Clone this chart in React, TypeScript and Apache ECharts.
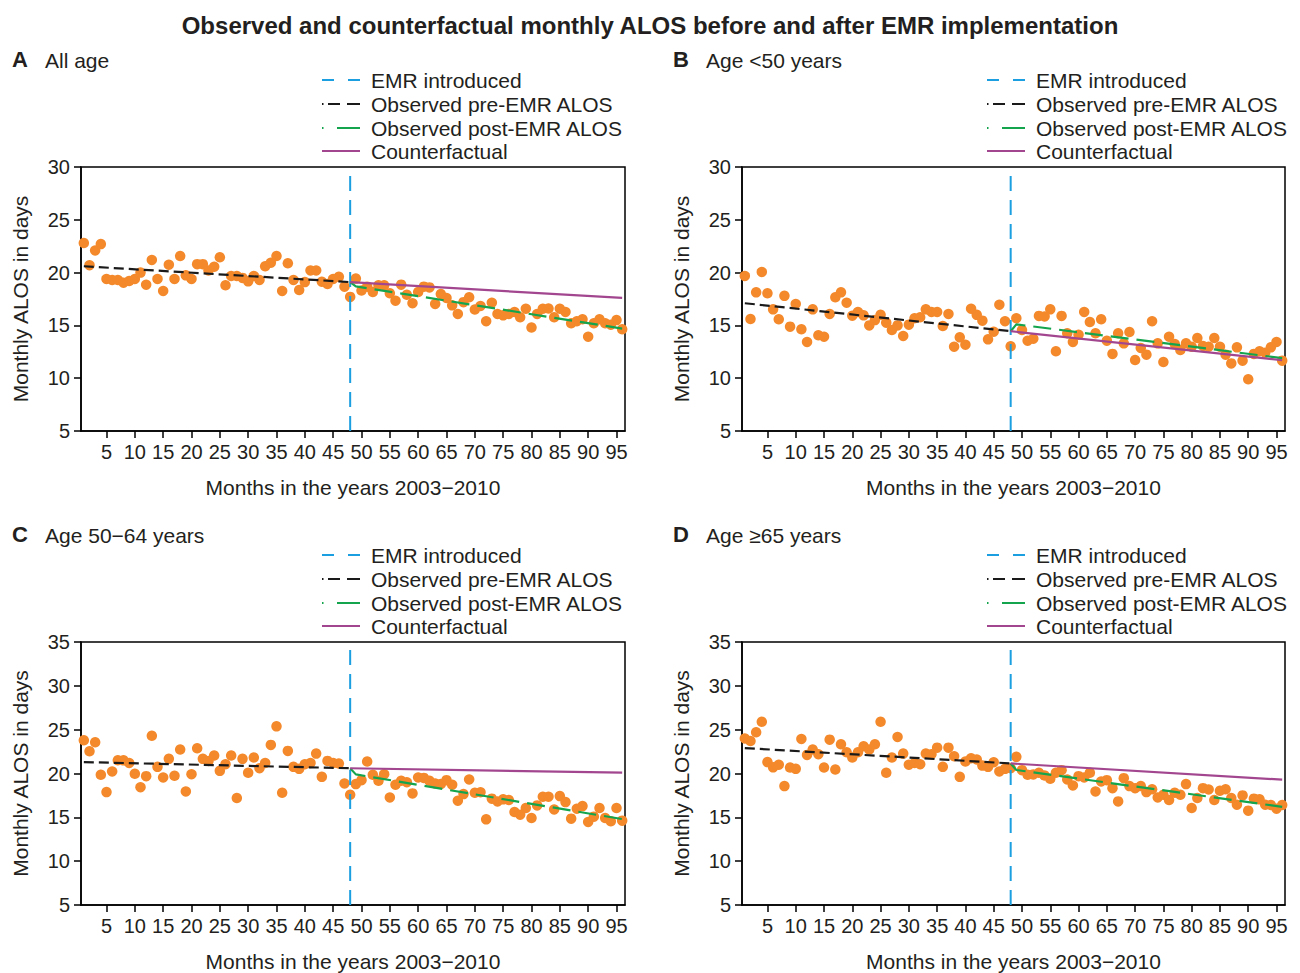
import React, { useEffect, useRef } from "react";
import * as echarts from "echarts";

const FONT = "Liberation Sans, Arial, Helvetica, sans-serif";

const titleText = "Observed and counterfactual monthly ALOS before and after EMR implementation";
const panelLetters = ["A", "B", "C", "D"];
const panelNames = ["All age", "Age <50 years", "Age 50\u221264 years", "Age \u226565 years"];
const legendNames = ["EMR introduced", "Observed pre-EMR ALOS", "Observed post-EMR ALOS", "Counterfactual"];
const xTickValues = [5, 10, 15, 20, 25, 30, 35, 40, 45, 50, 55, 60, 65, 70, 75, 80, 85, 90, 95];
const yMaxes = [30, 30, 35, 35];
const emrMonth = 48;

const months = Array.from({ length: 96 }, (_, i) => i + 1);

const obsA = [
  22.8, 20.7, 22.1, 22.7, 19.4, 19.3, 19.3, 19.05, 19.2, 19.4,
  20.0, 18.85, 21.2, 19.4, 18.26, 20.75, 19.4, 21.57, 19.74, 19.4,
  20.8, 20.8, 20.2, 20.56, 21.45, 18.8, 19.68, 19.68, 19.5, 19.17,
  19.68, 19.3, 20.6, 20.94, 21.57, 18.26, 20.88, 19.3, 18.35, 19.1,
  20.2, 20.2, 19.14, 18.92, 19.4, 19.6, 18.67, 17.7, 19.43, 18.3,
  18.67, 18.16, 18.8, 18.8, 18.04, 17.34, 18.86, 17.9, 17.1, 18.16,
  18.67, 18.6, 17.03, 17.97, 17.6, 16.9, 16.08, 17.2, 17.66, 16.5,
  16.84, 15.4, 17.15, 16.08, 15.95, 16.08, 16.27, 15.77, 16.58, 14.8,
  16.08, 16.58, 16.6, 15.77, 16.58, 16.27, 15.2, 15.4, 15.58, 13.93,
  15.2, 15.58, 15.2, 15.07, 15.5, 14.63,
];
const obsB = [
  19.68, 15.6, 18.13, 20.06, 18.04, 16.52, 15.58, 17.8, 14.88, 17.03,
  14.63, 13.43, 16.52, 14.06, 13.93, 16.08, 17.66, 18.13, 17.15, 15.92,
  16.27, 15.95, 15.0, 15.5, 16.0, 15.26, 14.56, 15.0, 14.0, 15.07,
  15.67, 15.77, 16.52, 16.27, 16.27, 14.94, 16.08, 12.98, 13.87, 13.17,
  16.58, 16.0, 15.45, 13.68, 14.4, 16.96, 15.4, 13.02, 15.68, 14.56,
  13.55, 13.74, 15.9, 15.85, 16.52, 12.55, 15.9, 14.25, 13.43, 14.12,
  16.27, 15.32, 14.25, 15.58, 13.55, 12.3, 14.25, 13.3, 14.37, 11.72,
  12.86, 12.23, 15.4, 13.3, 11.53, 13.93, 13.24, 12.67, 13.3, 12.98,
  13.8, 13.05, 12.98, 13.8, 12.98, 12.23, 11.4, 12.92, 11.66, 9.9,
  12.3, 12.55, 12.42, 12.92, 13.43, 11.66,
];
const obsC = [
  23.79, 22.53, 23.56, 19.85, 17.88, 20.23, 21.51, 21.5, 21.2, 19.97,
  18.44, 19.7, 24.3, 20.76, 19.55, 21.67, 19.74, 22.73, 17.95, 19.92,
  22.88, 21.67, 21.44, 22.05, 20.3, 21.06, 22.05, 17.2, 21.67, 20.08,
  21.82, 20.6, 21.2, 23.26, 25.38, 17.8, 22.58, 20.76, 20.53, 21.06,
  21.2, 22.27, 19.62, 21.44, 21.2, 21.14, 18.86, 17.57, 18.79, 19.24,
  21.36, 19.85, 19.17, 19.92, 17.27, 18.72, 19.17, 19.01, 17.73, 19.55,
  19.5, 19.17, 18.86, 18.8, 19.24, 18.72, 16.9, 17.65, 19.32, 17.8,
  17.87, 14.77, 17.13, 16.82, 17.05, 16.97, 15.6, 15.3, 16.06, 14.92,
  16.36, 17.35, 17.35, 15.9, 17.42, 16.74, 14.85, 15.98, 16.28, 14.47,
  15.08, 16.06, 14.92, 14.55, 16.06, 14.62,
];
const obsD = [
  24.0, 23.7, 24.7, 25.9, 21.3, 20.7, 21.0, 18.56, 20.68, 20.53,
  23.94, 22.12, 22.73, 22.2, 20.68, 23.86, 20.45, 23.33, 22.42, 21.82,
  22.42, 23.1, 22.73, 23.33, 25.9, 20.08, 21.82, 24.17, 22.27, 21.0,
  21.2, 21.06, 22.27, 22.2, 22.95, 20.76, 22.95, 21.97, 19.62, 21.36,
  21.74, 21.6, 20.9, 20.76, 21.29, 20.23, 20.53, 20.6, 21.9, 20.38,
  19.85, 19.9, 20.08, 19.77, 19.4, 20.08, 20.38, 19.32, 18.64, 19.7,
  19.55, 20.08, 17.95, 19.09, 19.24, 18.33, 16.82, 19.47, 18.56, 18.33,
  18.56, 17.88, 18.2, 17.27, 17.57, 16.97, 17.8, 17.57, 18.79, 16.06,
  17.2, 18.33, 18.18, 16.97, 18.03, 18.2, 17.2, 16.44, 17.5, 15.76,
  17.13, 17.05, 16.44, 16.4, 15.98, 16.4,
];

// trend lines (values at the listed months)
const preMonths = [1, 48];
const postMonths = [48, 49, 96];
const cfMonths = [48, 96];
const preA = [20.6, 19.1];
const postA = [19.1, 18.7, 14.7];
const cfA = [19.1, 17.6];
const preB = [17.1, 14.45];
const postB = [14.45, 15.1, 11.9];
const cfB = [14.45, 11.7];
const preC = [21.3, 20.6];
const postC = [20.6, 19.9, 14.8];
const cfC = [20.6, 20.1];
const preD = [22.9, 21.15];
const postD = [21.15, 20.4, 16.2];
const cfD = [21.15, 19.3];

const observed = [obsA, obsB, obsC, obsD];
const pres = [preA, preB, preC, preD];
const posts = [postA, postB, postC, postD];
const cfs = [cfA, cfB, cfC, cfD];

const COLORS = {
  dot: "#f4892b",
  emr: "#1c9fe0",
  pre: "#1a1a1a",
  post: "#14a44d",
  cf: "#a2478f",
  text: "#231f20",
};

const grids = [
  { left: 81, top: 167, width: 544, height: 264 },
  { left: 742, top: 167, width: 543, height: 264 },
  { left: 81, top: 642, width: 544, height: 264 },
  { left: 742, top: 642, width: 543, height: 264 },
];
const legendShift = [0, 5, 0, 5];

const zip = (xs: number[], ys: number[]) => xs.map((x, i) => [x, ys[i]]);

function legendGraphics(gTop: number, gRight: number): any[] {
  const out: any[] = [];
  const x0 = gRight - 303;
  const tx = gRight - 254;
  const rows = [gTop - 87, gTop - 63, gTop - 39, gTop - 16];
  const seg = (xa: number, xb: number, y: number, color: string) => ({
    type: "line",
    shape: { x1: xa, y1: y, x2: xb, y2: y },
    style: { stroke: color, lineWidth: 2 },
    silent: true,
  });
  out.push(seg(x0, x0 + 12, rows[0], COLORS.emr));
  out.push(seg(x0 + 26, x0 + 38, rows[0], COLORS.emr));
  out.push(seg(x0, x0 + 1.5, rows[1], COLORS.pre));
  out.push(seg(x0 + 6, x0 + 18, rows[1], COLORS.pre));
  out.push(seg(x0 + 25, x0 + 38, rows[1], COLORS.pre));
  out.push(seg(x0, x0 + 1.5, rows[2], COLORS.post));
  out.push(seg(x0 + 15, x0 + 38, rows[2], COLORS.post));
  out.push(seg(x0, x0 + 38, rows[3], COLORS.cf));
  legendNames.forEach((name, k) => {
    out.push({
      type: "text",
      x: tx,
      y: rows[k],
      silent: true,
      style: {
        text: name,
        font: `21px ${FONT}`,
        fill: COLORS.text,
        textVerticalAlign: "middle",
        verticalAlign: "middle",
      },
    });
  });
  return out;
}

function buildOption() {
  const series: any[] = [];
  const xAxes: any[] = [];
  const yAxes: any[] = [];
  const graphics: any[] = [];

  grids.forEach((g, i) => {
    xAxes.push({
      gridIndex: i,
      type: "value",
      min: 0.5,
      max: 96.5,
      name: "Months in the years 2003\u22122010",
      nameLocation: "middle",
      nameGap: 46,
      nameTextStyle: { fontFamily: FONT, fontSize: 21, color: COLORS.text },
      axisLine: { show: true, onZero: false, lineStyle: { color: "#000", width: 1.5 } },
      axisTick: { show: true, customValues: xTickValues, length: 7, lineStyle: { color: "#000", width: 1.5 } },
      axisLabel: { customValues: xTickValues, fontFamily: FONT, fontSize: 20, color: COLORS.text, margin: 11 },
      splitLine: { show: false },
    });
    yAxes.push({
      gridIndex: i,
      type: "value",
      min: 5,
      max: yMaxes[i],
      interval: 5,
      name: "Monthly ALOS in days",
      nameLocation: "middle",
      nameRotate: 90,
      nameGap: 50,
      nameTextStyle: { fontFamily: FONT, fontSize: 21, color: COLORS.text },
      axisLine: { show: true, onZero: false, lineStyle: { color: "#000", width: 1.5 } },
      axisTick: { show: true, length: 7, lineStyle: { color: "#000", width: 1.5 } },
      axisLabel: { fontFamily: FONT, fontSize: 20, color: COLORS.text, margin: 11 },
      splitLine: { show: false },
    });

    series.push({
      type: "scatter",
      name: "Observed",
      xAxisIndex: i,
      yAxisIndex: i,
      data: zip(months, observed[i]),
      symbolSize: 10.5,
      itemStyle: { color: COLORS.dot, opacity: 1 },
      z: 2,
    });
    series.push({
      type: "line",
      name: legendNames[0],
      xAxisIndex: i,
      yAxisIndex: i,
      data: [[emrMonth, 5], [emrMonth, yMaxes[i]]],
      symbol: "none",
      lineStyle: { color: COLORS.emr, width: 2, type: [15, 9] },
      z: 3,
    });
    series.push({
      type: "line",
      name: legendNames[1],
      xAxisIndex: i,
      yAxisIndex: i,
      data: zip(preMonths, pres[i]),
      symbol: "none",
      lineStyle: { color: COLORS.pre, width: 2.2, type: [10, 5] },
      z: 4,
    });
    series.push({
      type: "line",
      name: legendNames[2],
      xAxisIndex: i,
      yAxisIndex: i,
      data: zip(postMonths, posts[i]),
      symbol: "none",
      lineStyle: { color: COLORS.post, width: 2.2, type: [18, 8] },
      z: 4,
    });
    series.push({
      type: "line",
      name: legendNames[3],
      xAxisIndex: i,
      yAxisIndex: i,
      data: zip(cfMonths, cfs[i]),
      symbol: "none",
      lineStyle: { color: COLORS.cf, width: 2.2 },
      z: 4,
    });

    const right = g.left + g.width + legendShift[i];
    graphics.push(...legendGraphics(g.top, right));

    graphics.push({
      type: "text",
      x: g.left - 69,
      y: g.top - 108,
      style: { text: panelLetters[i], font: `bold 22px ${FONT}`, fill: COLORS.text, textVerticalAlign: "middle", verticalAlign: "middle" },
    });
    graphics.push({
      type: "text",
      x: g.left - 36,
      y: g.top - 107,
      style: { text: panelNames[i], font: `21px ${FONT}`, fill: COLORS.text, textVerticalAlign: "middle", verticalAlign: "middle" },
    });
  });

  return {
    animation: false,
    backgroundColor: "#ffffff",
    title: {
      text: titleText,
      left: "center",
      top: 8,
      textStyle: { fontFamily: FONT, fontSize: 24, fontWeight: "bold", color: COLORS.text },
    },
    grid: grids.map((g) => ({ ...g, show: true, borderColor: "#000", borderWidth: 1.5, backgroundColor: "transparent" })),
    xAxis: xAxes,
    yAxis: yAxes,
    series,
    graphic: graphics,
  };
}

export default function App() {
  const ref = useRef<HTMLDivElement>(null);
  useEffect(() => {
    if (!ref.current) return;
    const chart = echarts.init(ref.current, undefined, { renderer: "svg" });
    chart.setOption(buildOption() as any);
    return () => chart.dispose();
  }, []);
  return (
    <div
      ref={ref}
      style={{ position: "absolute", left: 0, top: 0, width: 1300, height: 973, background: "#fff" }}
    />
  );
}
